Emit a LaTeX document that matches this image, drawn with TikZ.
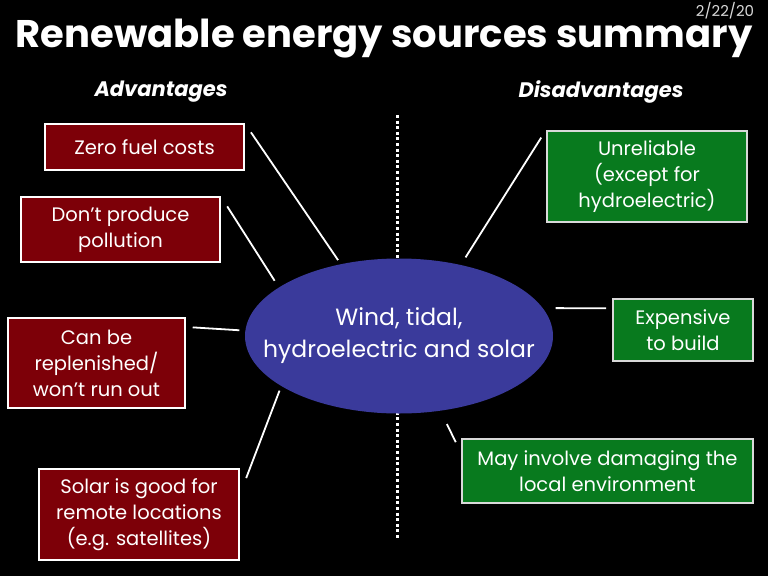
\documentclass[tikz,border=0pt]{standalone}
\usepackage{fontspec}
\setmainfont{Poppins}
\usetikzlibrary{shapes.geometric}
\definecolor{proRed}{RGB}{125,0,8}
\definecolor{conGreen}{RGB}{8,122,30}
\definecolor{hubBlue}{RGB}{58,58,155}

\begin{document}
\begin{tikzpicture}[x=1pt, y=-1pt]
  \tikzstyle{pro}=[rectangle, draw=white, line width=1.5pt, fill=proRed, text=white, align=center, font=\fontsize{19.5}{26}\selectfont, inner sep=0pt]
  \tikzstyle{con}=[rectangle, draw=white!85!black, line width=2pt, fill=conGreen, text=white, align=center, font=\fontsize{19.5}{26}\selectfont, inner sep=0pt]
  \tikzstyle{head}=[text=white, font=\fontsize{21}{26}\selectfont\bfseries\itshape]
  \tikzstyle{connect}=[draw=white, line width=1.8pt]
  \fill[black] (0,0) rectangle (768,576);
  \useasboundingbox (0,0) rectangle (768,576);
  % title and date
  \node[text=white, inner sep=0pt, font=\fontsize{38.5}{40}\selectfont\bfseries] (title) at (384,39) {Renewable energy sources summary};
  \node[text=white!85!black, inner sep=0pt, font=\fontsize{15}{18}\selectfont] (date) at (725,11) {2/22/20};
  \node[head] (adv) at (161,92) {Advantages};
  \node[head] (dis) at (601,92) {Disadvantages};
  % divider
  \draw[white, line width=3pt, dash pattern=on 3pt off 2.6pt] (397,115) -- (397,538);
  % centre
  \node[ellipse, fill=hubBlue, minimum width=308pt, minimum height=155pt, inner sep=0pt, outer sep=0pt,
        label={[text=white, align=center, font=\fontsize{23.5}{32}\selectfont]center:{Wind, tidal,\\hydroelectric and solar}}] (wind) at (399,336) {};
  % advantages
  \node[pro, minimum width=199pt, minimum height=46pt] (zero) at (144.5,147) {Zero fuel costs};
  \node[pro, minimum width=199pt, minimum height=65pt] (poll) at (120.5,229.5) {Don’t produce\\pollution};
  \node[pro, minimum width=177pt, minimum height=90pt] (repl) at (96.5,363) {Can be\\replenished/\\won’t run out};
  \node[pro, minimum width=200pt, minimum height=91pt] (solar) at (139,514.5) {Solar is good for\\remote locations\\(e.g. satellites)};
  % disadvantages
  \node[con, minimum width=200pt, minimum height=91pt] (unrel) at (647,176.5) {Unreliable\\(except for\\hydroelectric)};
  \node[con, minimum width=140pt, minimum height=62pt] (exp) at (683,330) {Expensive\\to build};
  \node[con, minimum width=291pt, minimum height=64pt] (may) at (607.5,471) {May involve damaging the\\local environment};
  \path (zero.north east) edge [connect, shorten <=11pt, shorten >=5pt] (wind.129)
        (poll.north east) edge [connect, shorten <=12pt, shorten >=8pt] (wind.158)
        (repl.22) edge [connect, shorten <=7pt, shorten >=6pt] (wind.178)
        (solar.11) edge [connect, shorten <=18pt, shorten >=5pt] (wind.203.5)
        (unrel.north west) edge [connect, shorten <=9pt, shorten >=9pt] (wind.49.5)
        (exp.163) edge [connect, shorten <=6pt, shorten >=13pt] (wind.11.7)
        (may.173.2) edge [connect, shorten <=12pt, shorten >=15pt] (wind.299.8);
\end{tikzpicture}
\end{document}
